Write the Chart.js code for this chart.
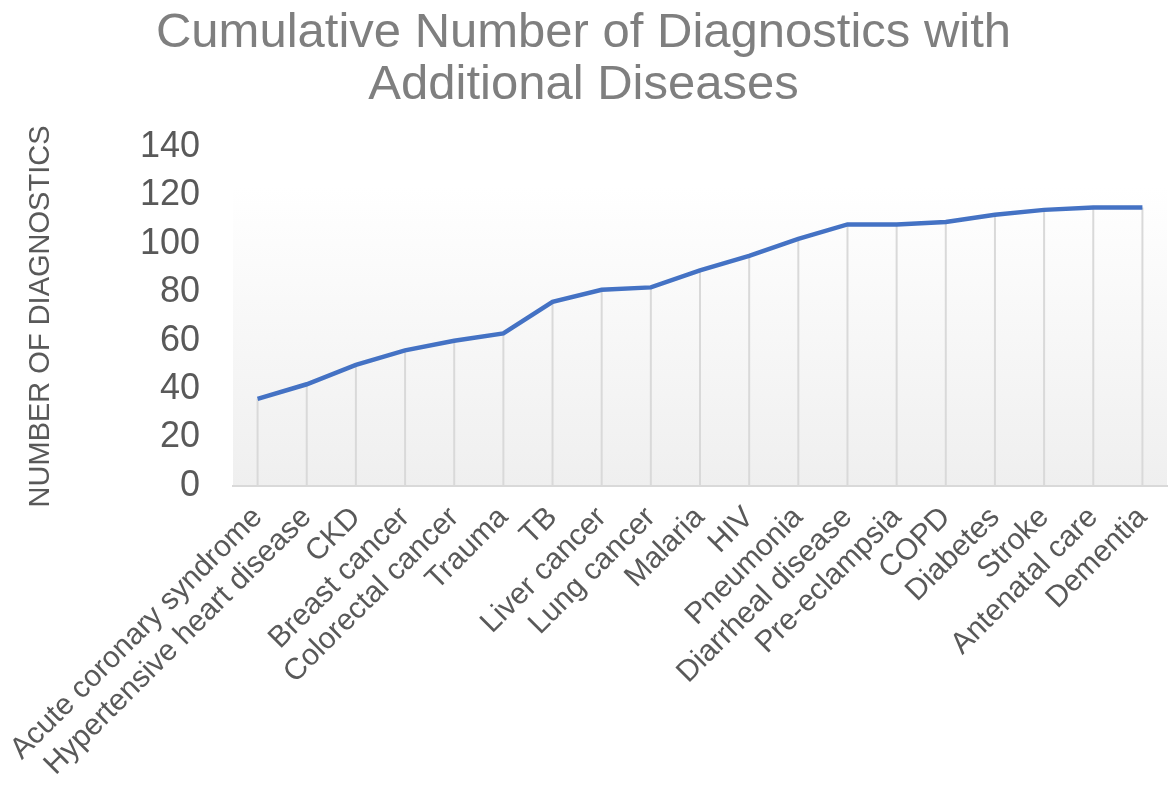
<!DOCTYPE html>
<html>
<head>
<meta charset="utf-8">
<script src="https://cdn.jsdelivr.net/npm/chart.js@4"></script>
<style>
  html, body { margin: 0; padding: 0; background: #fff; }
  #wrap { width: 1168px; height: 791px; }
</style>
</head>
<body>
<div id="wrap"><canvas id="diagChart"></canvas></div>
<script>
// Data
const diseases = [
    'Acute coronary syndrome', 'Hypertensive heart disease', 'CKD', 'Breast cancer',
    'Colorectal cancer', 'Trauma', 'TB', 'Liver cancer', 'Lung cancer', 'Malaria',
    'HIV', 'Pneumonia', 'Diarrheal disease', 'Pre-eclampsia', 'COPD', 'Diabetes',
    'Stroke', 'Antenatal care', 'Dementia'
];
const cumulativeDiagnostics = [36, 42, 50, 56, 60, 63, 76, 81, 82, 89, 95, 102, 108, 108, 109, 112, 114, 115, 115];
const yTicks = [0, 20, 40, 60, 80, 100, 120, 140];

const FONT = 'Liberation Sans, Arial, sans-serif';

// Plot area gradient, white at top to light grey at the axis
const plotBackground = {
    id: 'plotBackground',
    beforeDraw(chart) {
        const { ctx, chartArea: a } = chart;
        const grad = ctx.createLinearGradient(0, a.top, 0, a.bottom);
        grad.addColorStop(0, '#ffffff');
        grad.addColorStop(0.12, '#ffffff');
        grad.addColorStop(1, '#efefef');
        ctx.save();
        ctx.fillStyle = grad;
        ctx.fillRect(a.left, a.top, a.right - a.left, a.bottom - a.top);
        ctx.restore();
    }
};

// Vertical drop lines from each point down to the axis
const dropLines = {
    id: 'dropLines',
    beforeDatasetsDraw(chart) {
        const { ctx, scales } = chart;
        const meta = chart.getDatasetMeta(0);
        const base = scales.y.getPixelForValue(0);
        ctx.save();
        ctx.strokeStyle = '#d9d9d9';
        ctx.lineWidth = 2;
        meta.data.forEach(pt => {
            ctx.beginPath();
            ctx.moveTo(pt.x, pt.y);
            ctx.lineTo(pt.x, base);
            ctx.stroke();
        });
        ctx.restore();
    }
};

const ctx = document.getElementById('diagChart').getContext('2d');
const chart = new Chart(ctx, {
    type: 'line',
    data: {
        labels: diseases,
        datasets: [{
            label: 'Cumulative diagnostics',
            data: cumulativeDiagnostics,
            borderColor: '#4472c4',
            borderWidth: 4.5,
            pointRadius: 0,
            tension: 0,
            fill: false
        }]
    },
    options: {
        responsive: true,
        maintainAspectRatio: false,
        animation: false,
        layout: { padding: { left: 0, right: 1, top: 0, bottom: 0 } },
        plugins: {
            legend: { display: false },
            tooltip: { enabled: false },
            title: {
                display: true,
                text: ['Cumulative Number of Diagnostics with', 'Additional Diseases'],
                color: '#7f7f7f',
                font: { family: FONT, size: 49, weight: 'normal', lineHeight: 1.05 },
                padding: { top: 8, bottom: 36 }
            }
        },
        scales: {
            x: {
                offset: true,
                grid: { display: false, drawTicks: false },
                border: { display: true, color: '#d9d9d9', width: 2 },
                ticks: {
                    color: '#595959',
                    font: { family: FONT, size: 30 },
                    maxRotation: 45,
                    minRotation: 45,
                    autoSkip: false,
                    padding: 14
                },
                afterFit(scale) {
                    scale.height = 305;
                    scale.paddingLeft = 0;
                    scale.paddingRight = 0;
                }
            },
            y: {
                min: 0,
                max: 140,
                afterBuildTicks(scale) { scale.ticks = yTicks.map(v => ({ value: v })); },
                grid: { display: false, drawTicks: false },
                border: { display: false },
                ticks: {
                    color: '#595959',
                    font: { family: FONT, size: 36 },
                    padding: 33
                },
                title: {
                    display: true,
                    text: 'NUMBER OF DIAGNOSTICS',
                    color: '#595959',
                    font: { family: FONT, size: 29, weight: 'normal' },
                    padding: { top: 24, bottom: 0 }
                },
                afterFit(scale) { scale.width = 233; }
            }
        }
    },
    plugins: [plotBackground, dropLines]
});
</script>
</body>
</html>
